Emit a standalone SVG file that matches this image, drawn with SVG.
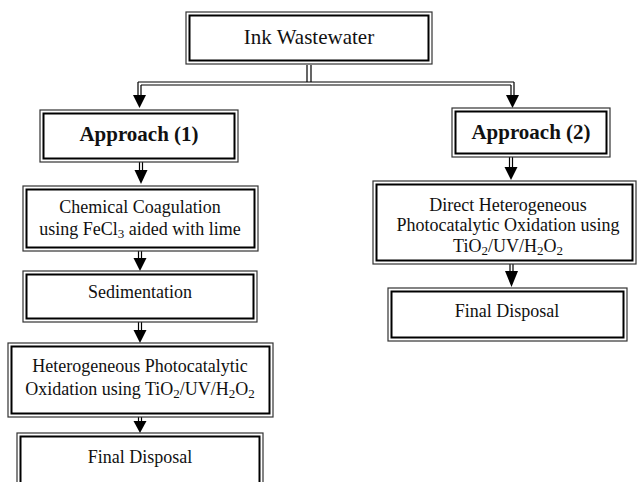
<svg xmlns="http://www.w3.org/2000/svg" width="638" height="482" viewBox="0 0 638 482">
<style>
.o{fill:#fff;stroke:#333;stroke-width:1.2}
.i{fill:none;stroke:#000;stroke-width:2}
.t{font-family:"Liberation Serif","Times New Roman",serif;font-size:18px;fill:#111;text-anchor:middle}
.b{font-weight:bold;font-size:21px}
.l{stroke:#000;stroke-width:1.2;fill:none}
.h{fill:#000}
.s{font-size:13px}
</style>
<rect width="638" height="482" fill="#fff"/>
<g id="connectors">
<path class="l" d="M307 65V82M311 65V82M138 82H514M141 85H511M138 82V96M141 85V96M511 85V96M514 82V96"/>
<polygon class="h" points="133,95 146,95 139.5,108"/>
<polygon class="h" points="506,95 519,95 512.5,108"/>
<path class="l" d="M139.5 162V171M142.5 162V171"/>
<polygon class="h" points="134.5,170 147.5,170 141,184"/>
<path class="l" d="M138.5 251V259M141.5 251V259"/>
<polygon class="h" points="133.5,258 146.5,258 140,271"/>
<path class="l" d="M138.5 322V331M141.5 322V331"/>
<polygon class="h" points="133.5,330 146.5,330 140,343"/>
<path class="l" d="M138.5 417V422M141.5 417V422"/>
<polygon class="h" points="133.5,421 146.5,421 140,433"/>
<path class="l" d="M509.5 157V168M512.5 157V168"/>
<polygon class="h" points="504.5,167 517.5,167 511,180"/>
<path class="l" d="M510 264V272M513 264V272"/>
<polygon class="h" points="505,271 518,271 511.5,287"/>
</g>
<g id="ink">
<rect class="o" x="186" y="12" width="246" height="52"/>
<rect class="i" x="189.5" y="15.5" width="239" height="45"/>
<text class="t" x="309" y="44" style="font-size:21px">Ink Wastewater</text>
</g>
<g id="approach1">
<rect class="o" x="40" y="110" width="198" height="52"/>
<rect class="i" x="43.5" y="113.5" width="191" height="45"/>
<text class="t b" x="139" y="141">Approach (1)</text>
</g>
<g id="coagulation">
<rect class="o" x="23" y="186" width="235" height="65"/>
<rect class="i" x="26.5" y="189.5" width="228" height="58"/>
<text class="t" x="140" y="213">Chemical Coagulation</text>
<text class="t" x="140" y="235">using FeCl<tspan class="s" dy="3">3</tspan><tspan dy="-3"> aided with lime</tspan></text>
</g>
<g id="sedimentation">
<rect class="o" x="23" y="271" width="234" height="51"/>
<rect class="i" x="26.5" y="274.5" width="227" height="44"/>
<text class="t" x="140" y="298">Sedimentation</text>
</g>
<g id="hetero">
<rect class="o" x="8" y="343" width="265" height="74"/>
<rect class="i" x="11.5" y="346.5" width="258" height="67"/>
<text class="t" x="140" y="372">Heterogeneous Photocatalytic</text>
<text class="t" x="140" y="395">Oxidation using TiO<tspan class="s" dy="3">2</tspan><tspan dy="-3">/UV/H</tspan><tspan class="s" dy="3">2</tspan><tspan dy="-3">O</tspan><tspan class="s" dy="3">2</tspan></text>
</g>
<g id="final1">
<rect class="o" x="17" y="433" width="246" height="60"/>
<rect class="i" x="20.5" y="436.5" width="239" height="53"/>
<text class="t" x="140" y="463">Final Disposal</text>
</g>
<g id="approach2">
<rect class="o" x="452" y="108" width="158" height="49"/>
<rect class="i" x="455.5" y="111.5" width="151" height="42"/>
<text class="t b" x="531" y="139">Approach (2)</text>
</g>
<g id="direct">
<rect class="o" x="373" y="181" width="263" height="83"/>
<rect class="i" x="376.5" y="184.5" width="256" height="76"/>
<text class="t" x="508" y="211">Direct Heterogeneous</text>
<text class="t" x="508" y="231">Photocatalytic Oxidation using</text>
<text class="t" x="508" y="252">TiO<tspan class="s" dy="3">2</tspan><tspan dy="-3">/UV/H</tspan><tspan class="s" dy="3">2</tspan><tspan dy="-3">O</tspan><tspan class="s" dy="3">2</tspan></text>
</g>
<g id="final2">
<rect class="o" x="388" y="288" width="239" height="53"/>
<rect class="i" x="391.5" y="291.5" width="232" height="46"/>
<text class="t" x="507" y="317">Final Disposal</text>
</g>
</svg>
